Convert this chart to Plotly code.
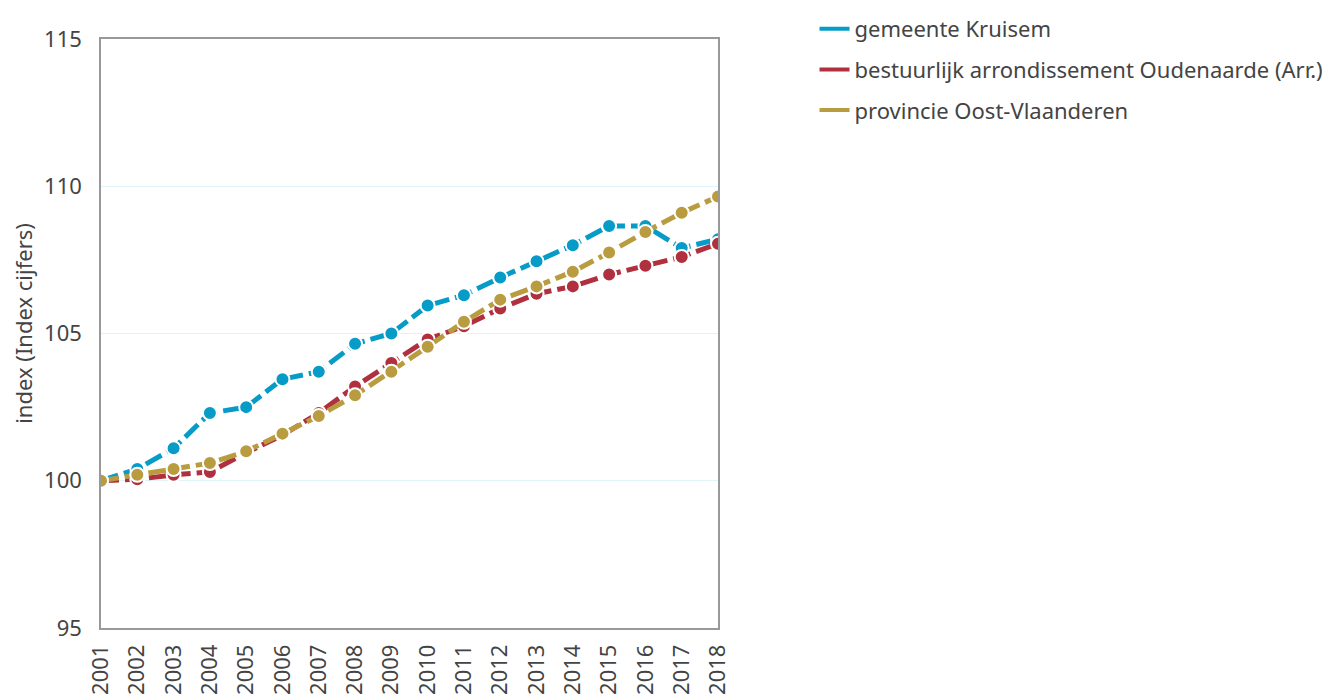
import plotly.graph_objects as go

years = [str(y) for y in range(2001, 2019)]
kruisem = [100.0, 100.4, 101.1, 102.3, 102.5, 103.45, 103.7, 104.65, 105.0, 105.95,
           106.3, 106.9, 107.45, 108.0, 108.65, 108.65, 107.9, 108.2]
oudenaarde = [100.0, 100.05, 100.2, 100.3, 100.95, 101.55, 102.3, 103.2, 104.0, 104.8,
              105.25, 105.85, 106.35, 106.6, 107.0, 107.3, 107.6, 108.05]
oostvl = [100.0, 100.2, 100.4, 100.6, 101.0, 101.6, 102.2, 102.9, 103.7, 104.55,
          105.4, 106.15, 106.6, 107.1, 107.75, 108.45, 109.1, 109.65]

names = ["gemeente Kruisem", "bestuurlijk arrondissement Oudenaarde (Arr.)",
         "provincie Oost-Vlaanderen"]
colors = ["#079cc8", "#b0303f", "#b99c40"]
series = [kruisem, oudenaarde, oostvl]
y_title = "index (Index cijfers)"

fig = go.Figure()
for name, vals, col in zip(names, series, colors):
    fig.add_trace(go.Scatter(
        x=years, y=vals, mode="lines+markers", name=name, showlegend=False,
        line=dict(color=col, width=5, dash="18px,6px"),
        marker=dict(size=14, color=col, line=dict(color="white", width=2)),
    ))
for i, (name, col) in enumerate(zip(names, colors)):
    fig.add_trace(go.Scatter(
        x=[None], y=[None], mode="lines", name=name, legendgroup=f"g{i}",
        line=dict(color=col, width=4),
    ))

fig.update_layout(
    width=1330, height=692,
    margin=dict(l=93, r=620, t=31, b=72, autoexpand=False),
    paper_bgcolor="white", plot_bgcolor="white",
    font=dict(family="Noto Sans, sans-serif", color="#444", size=20),
    showlegend=True,
    legend=dict(xref="container", yref="container", x=0.6064, y=1.0,
                xanchor="left", yanchor="top",
                font=dict(size=22, color="#444"), tracegroupgap=9,
                bgcolor="rgba(0,0,0,0)"),
    xaxis=dict(type="category", tickangle=-90, showgrid=False, range=[0, 17],
               showline=True, mirror=True, linecolor="#999", linewidth=1.5,
               ticks="outside", ticklen=6, tickcolor="white",
               tickfont=dict(size=22, color="#444"), automargin=False),
    yaxis=dict(range=[95, 115], dtick=5, showgrid=True, gridcolor="#dff3fa",
               gridwidth=1, zeroline=False, automargin=False,
               showline=True, mirror=True, linecolor="#999", linewidth=1.5,
               ticks="outside", ticklen=13, tickcolor="white",
               tickfont=dict(size=22, color="#444")),
    annotations=[dict(text=y_title, xref="paper", yref="paper", x=-0.1265, y=0.518,
                      xanchor="center", yanchor="middle", textangle=-90,
                      showarrow=False, font=dict(size=22, color="#444"))],
)

fig.write_html("out.html")
